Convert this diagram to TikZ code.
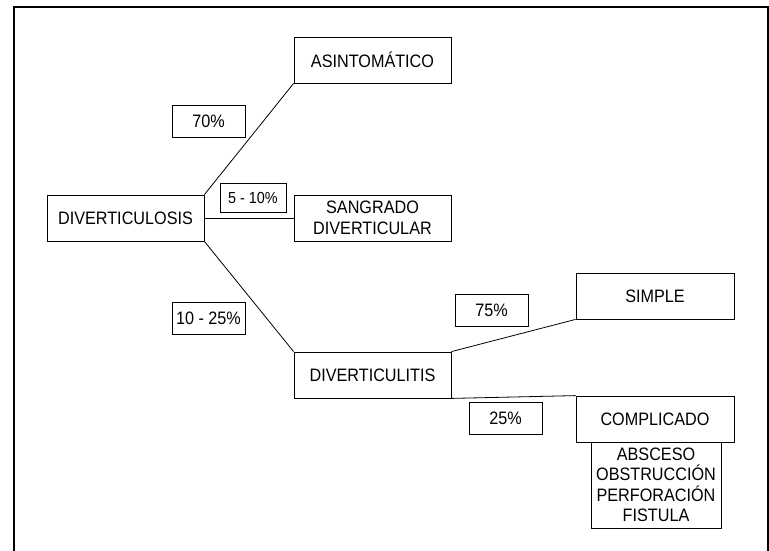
\documentclass[tikz,border=0pt]{standalone}
\usepackage{fontspec}
\setmainfont[FakeStretch=0.9]{Liberation Sans}
\usepackage{tikz}
\usetikzlibrary{positioning,calc}
\tikzset{
  % Stage box: capital label, centred
  cbox/.style={draw, rectangle, minimum height=46pt, minimum width=157pt,
               align=center, line width=0.8pt, inner sep=2pt,
               font=\fontsize{18}{20.5}\selectfont},
  % Percentage tag
  pbox/.style={cbox, minimum height=32pt, minimum width=73pt},
  % Branch lines
  branch/.style={line width=0.8pt},
  % Outer frame
  frame/.style={line width=1.3pt}
}
\begin{document}
\begin{tikzpicture}[x=1pt, y=-1pt]
\useasboundingbox (0,0) rectangle (769,550);

% Outer frame, open at the bottom
\coordinate (fbl) at (14,551);
\coordinate (ftl) at (14,7);
\coordinate (ftr) at (768,7);
\coordinate (fbr) at (768,551);
\draw[frame] (fbl) -- (ftl) -- (ftr) -- (fbr);

% First level
\node[cbox] (dvs) at (125.5,218) {DIVERTICULOSIS};
\node[cbox] (asin) at (372.5,60) {ASINTOMÁTICO};
\node[cbox] (sang) at (372.5,218) {SANGRADO\\DIVERTICULAR};
\node[cbox] (dvt) at (372.5,375) {DIVERTICULITIS};

% Second level
\node[cbox, minimum width=158pt] (simple) at (655,296) {SIMPLE};
\node[cbox, minimum width=158pt] (compl) at (655,419) {COMPLICADO};
\node[cbox, minimum width=130pt, minimum height=86pt] (cmpl) at (656,485)
  {ABSCESO\\OBSTRUCCIÓN\\PERFORACIÓN\\FISTULA};

% Percentages
\node[pbox] (p70) at (208.5,121.5) {70\%};
\node[pbox, minimum width=66pt, minimum height=29pt,
      font=\fontsize{16}{18}\selectfont] (p510) at (253,197.5) {5 - 10\%};
\node[pbox] (p1025) at (208.5,318) {10 - 25\%};
\node[pbox] (p75) at (491.5,310) {75\%};
\node[pbox] (p25) at (505.5,418) {25\%};

% Branches
\draw[branch] (dvs.north east) -- (asin.south west);
\draw[branch] (dvs.east) -- (sang.west);
\draw[branch] (dvs.south east) -- (dvt.north west);
\draw[branch] (dvt.north east) -- (simple.south west);
\draw[branch] (dvt.south east) -- (compl.north west);

\end{tikzpicture}
\end{document}
